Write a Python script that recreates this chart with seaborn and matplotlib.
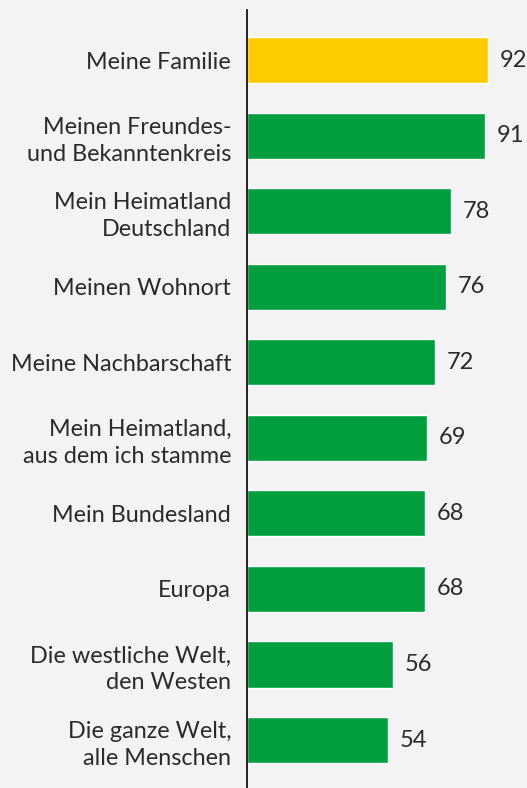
import matplotlib
matplotlib.use("Agg")
import matplotlib.pyplot as plt
import seaborn as sns
import pandas as pd

# chart data
categories = [
    "Meine Familie",
    "Meinen Freundes-\nund Bekanntenkreis",
    "Mein Heimatland\nDeutschland",
    "Meinen Wohnort",
    "Meine Nachbarschaft",
    "Mein Heimatland,\naus dem ich stamme",
    "Mein Bundesland",
    "Europa",
    "Die westliche Welt,\nden Westen",
    "Die ganze Welt,\nalle Menschen",
]
values = [92, 91, 78, 76, 72, 69, 68, 68, 56, 54]
bar_colors = ["#FFCC00"] + ["#009E3D"] * 9

df = pd.DataFrame({"category": categories, "value": values})

sns.set_style("white")
plt.rcParams["font.family"] = ["Lato", "DejaVu Sans"]
bg = "#F3F3F3"
text_color = "#2b2b2b"

fig = plt.figure(figsize=(5.27, 7.88), dpi=100, facecolor=bg)
ax = fig.add_axes([246.5 / 527, 0, 1 - 246.5 / 527, 1 - 10 / 788])
ax.set_facecolor(bg)

sns.barplot(data=df, x="value", y="category", hue="category",
            palette=bar_colors, legend=False, width=0.61, ax=ax,
            saturation=1)

# value labels
for i, v in enumerate(values):
    ax.text(v + 4.5, i, str(v), va="center", ha="left",
            fontsize=17, color=text_color)

ax.set_xlim(0, 107)
ax.set_ylim(9.635, -0.662)
ax.set_xlabel("")
ax.set_ylabel("")
ax.set_xticks([])
ax.tick_params(axis="y", length=0, pad=11, labelsize=16.8, labelcolor=text_color)
for lbl in ax.get_yticklabels():
    lbl.set_multialignment("right")
    lbl.set_linespacing(1.35)

for side in ["top", "right", "bottom"]:
    ax.spines[side].set_visible(False)
ax.spines["left"].set_color("black")
ax.spines["left"].set_linewidth(1.2)

fig.savefig("out.png", dpi=100, facecolor=bg)
